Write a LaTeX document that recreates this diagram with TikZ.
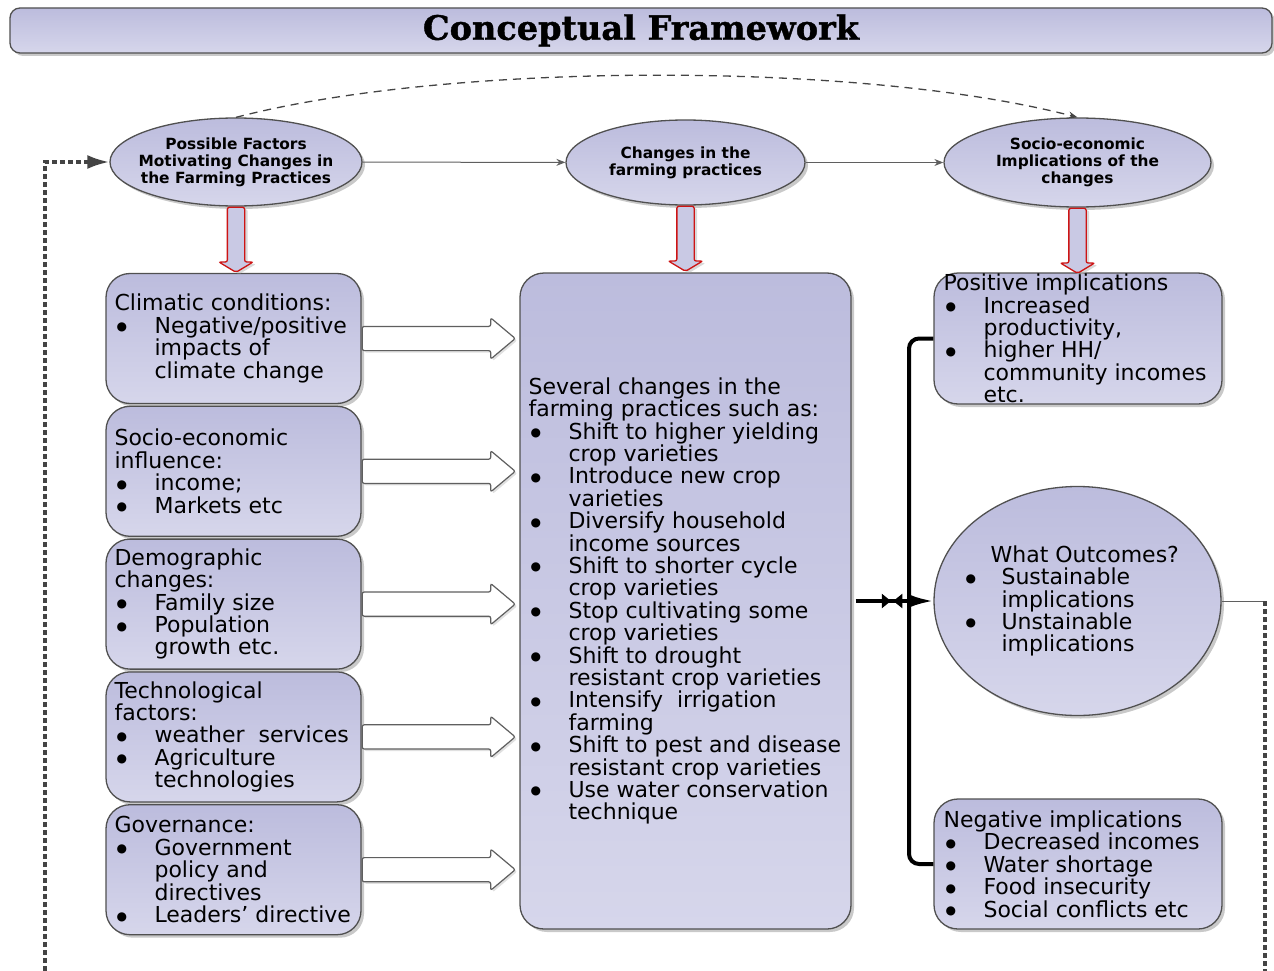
\documentclass[tikz,border=0pt]{standalone}
\usepackage{fontspec}
\setmainfont{DejaVu Sans}
\newfontfamily\titlefont{DejaVu Serif}[BoldFeatures={FakeBold=1.2}]
\usepackage{graphicx}
\usepackage{tikz}
\usetikzlibrary{positioning,calc,shapes.geometric,shapes.arrows,shadows,arrows.meta,decorations.markings}

\definecolor{lavDark}{RGB}{188,188,221}
\definecolor{lavLight}{RGB}{214,214,235}
\definecolor{rimGray}{RGB}{80,80,80}
\definecolor{dotGray}{RGB}{68,68,68}
\definecolor{flowGray}{RGB}{95,95,95}
\definecolor{redRim}{RGB}{205,20,20}

\newcommand{\bigdot}{\raisebox{2.5pt}{\fontsize{12}{12}\selectfont ●}}
\newcommand{\bul}{\makebox[40pt][l]{\hspace{2pt}\bigdot}}
\newcommand{\ind}{\hspace*{40pt}}
\newcommand{\cbul}{\makebox[36pt][l]{\bigdot}}
\newcommand{\cind}{\hspace*{36pt}}

\begin{document}
\begin{tikzpicture}[x=1pt, y=-1pt,
    lav/.style={top color=lavDark, bottom color=lavLight, draw=rimGray, line width=1.3pt,
        drop shadow={shadow xshift=3pt, shadow yshift=-3pt, fill=black!30, opacity=0.7}},
    ovalnode/.style={lav, ellipse, inner sep=0pt},
    ovaltext/.style={inner sep=0pt, align=center, font=\fontsize{15.4}{17}\selectfont\bfseries},
    factorbox/.style={lav, rectangle, rounded corners=24pt, minimum width=255pt, minimum height=130pt},
    boxtext/.style={inner sep=0pt, align=left, font=\fontsize{22}{22.4}\selectfont},
    hollow/.style={single arrow, draw=flowGray, fill=white, line width=1.2pt, rounded corners=2pt,
        inner sep=11.5pt, single arrow head extend=8.5pt, single arrow tip angle=80,
        minimum height=153pt, anchor=tail,
        drop shadow={shadow xshift=2pt, shadow yshift=-2pt, fill=black!20, opacity=0.6}},
    downarrow/.style={single arrow, shape border rotate=270, draw=redRim, fill=lavDark!80,
        line width=1.3pt, rounded corners=2pt, inner sep=8pt, single arrow head extend=8.5pt,
        single arrow tip angle=118, minimum height=65pt, anchor=tail,
        drop shadow={shadow xshift=3pt, shadow yshift=-2pt, fill=black!25, opacity=0.6}},
    flowline/.style={draw=flowGray, line width=1pt, -{Stealth[length=9pt, width=7pt]}},
    loopline/.style={draw=dotGray, line width=3.4pt, dash pattern=on 5pt off 3pt},
    bracket/.style={line width=4pt, rounded corners=10pt}
    ]
    \useasboundingbox (0,0) rectangle (1274,971);

    % title bar
    \node[lav, rectangle, rounded corners=10pt, minimum width=1262pt, minimum height=45pt] (title) at (641,30.5)
        {\titlefont\bfseries\raisebox{-2pt}{\resizebox{436pt}{!}{Conceptual Framework}}};

    % top row
    \node[ovalnode, minimum width=252pt, minimum height=88pt] (factors) at (236,162) {};
    \node[ovaltext] (factorsT) at (factors) {Possible Factors\\Motivating Changes in\\the Farming Practices};
    \node[ovalnode, minimum width=239pt, minimum height=85pt] (changes) at (685.5,162.5) {};
    \node[ovaltext] (changesT) at (changes) {Changes in the\\farming practices};
    \node[ovalnode, minimum width=267pt, minimum height=89pt] (socio) at (1077.5,162.5) {};
    \node[ovaltext] (socioT) at (socio) {Socio-economic\\Implications of the\\changes};

    \draw[flowline] (factors) -- (changes);
    \draw[flowline] (changes) -- (socio);
    \draw[flowline, draw=dotGray, dash pattern=on 8pt off 6pt, line width=1.3pt] (factors.north) .. controls +(215,-56) and +(-215,-56) .. (socio.north);

    % factor boxes
    \node[factorbox] (clim) at (233.5,338.5) {};
    \node[factorbox, below=1.5pt of clim] (socinf) {};
    \node[factorbox, below=1.5pt of socinf] (demo) {};
    \node[factorbox, below=1.5pt of demo] (tech) {};
    \node[factorbox, below=1.5pt of tech] (gov) {};

    \node[boxtext, right=9pt of clim.west] (climT) {Climatic conditions:\\
        \bul Negative/positive\\ \ind impacts of\\ \ind climate change};
    \node[boxtext, right=9pt of socinf.west] (socinfT) {Socio-economic\\ influence:\\
        \bul income;\\ \bul Markets etc};
    \node[boxtext, right=9pt of demo.west] (demoT) {Demographic\\ changes:\\
        \bul Family size\\ \bul Population\\ \ind growth etc.};
    \node[boxtext, right=9pt of tech.west] (techT) {Technological\\ factors:\\
        \bul weather~ services\\ \bul Agriculture\\ \ind technologies};
    \node[boxtext, right=9pt of gov.west] (govT) {Governance:\\
        \bul Government\\ \ind policy and\\ \ind directives\\ \bul Leaders’ directive};

    % practices
    \node[lav, rectangle, rounded corners=24pt, minimum width=331pt, minimum height=656pt] (practices) at (685.5,601) {};
    \node[boxtext, right=9pt of practices.west] (practicesT) {Several changes in the\\
        farming practices such as:\\
        \bul Shift to higher yielding\\ \ind crop varieties\\
        \bul Introduce new crop\\ \ind varieties\\
        \bul Diversify household\\ \ind income sources\\
        \bul Shift to shorter cycle\\ \ind crop varieties\\
        \bul Stop cultivating some\\ \ind crop varieties\\
        \bul Shift to drought\\ \ind resistant crop varieties\\
        \bul Intensify~ irrigation\\ \ind farming\\
        \bul Shift to pest and disease\\ \ind resistant crop varieties\\
        \bul Use water conservation\\ \ind technique};

    \foreach \f in {clim,socinf,demo,tech,gov}
        \node[hollow] (\f A) at (\f.east) {};

    % outcomes
    \node[lav, rectangle, rounded corners=24pt, minimum width=288pt, minimum height=131pt] (posimp) at (1078,338.5) {};
    \node[boxtext, right=10pt of posimp.west] (posimpT) {Positive implications\\
        \bul Increased\\ \ind productivity,\\ \bul higher HH/\\ \ind community incomes\\ \ind etc.};
    \node[lav, ellipse, inner sep=0pt, minimum width=287pt, minimum height=229pt] (outcome) at (1077.5,601) {};
    \node[boxtext, right=32pt of outcome.west] (outcomeT) {\hspace*{25pt}What Outcomes?\\
        \cbul Sustainable\\ \cind implications\\ \cbul Unstainable\\ \cind implications};
    \node[lav, rectangle, rounded corners=24pt, minimum width=288pt, minimum height=130pt] (negimp) at (1078,864) {};
    \node[boxtext, right=10pt of negimp.west] (negimpT) {Negative implications\\
        \bul Decreased incomes\\ \bul Water shortage\\ \bul Food insecurity\\ \bul Social conflicts etc};

    % down arrows
    \node[downarrow] (factorsD) at (factors.south) {};
    \node[downarrow] (changesD) at (changes.south) {};
    \node[downarrow] (socioD) at (socio.south) {};

    % bracket and links
    \coordinate (brk) at (909,601);
    \draw[bracket] (posimp.west) -| (brk) |- (negimp.west);
    \draw[line width=3.5pt, shorten <=4pt, -{Latex[length=24pt, width=13pt]},
        postaction={decorate, decoration={markings,
            mark=at position 0.48 with {\arrow{Triangle[length=9pt, width=14pt]}},
            mark=at position 0.51 with {\arrowreversed{Triangle[length=9pt, width=14pt]}}}}]
        (practices.east) -- (outcome.west);

    % feedback loop
    \coordinate (loopR) at (1265,601);
    \coordinate (loopRB) at (1265,971);
    \coordinate (loopLB) at (45,971);
    \coordinate (loopL) at (45,162);
    \draw[draw=flowGray, line width=1pt] (outcome.east) -- (loopR);
    \draw[loopline] (loopR) -- (loopRB);
    \draw[loopline, -{Latex[length=22pt, width=14pt]}] (loopLB) -- (loopL) -- (factors.west);
\end{tikzpicture}
\end{document}
